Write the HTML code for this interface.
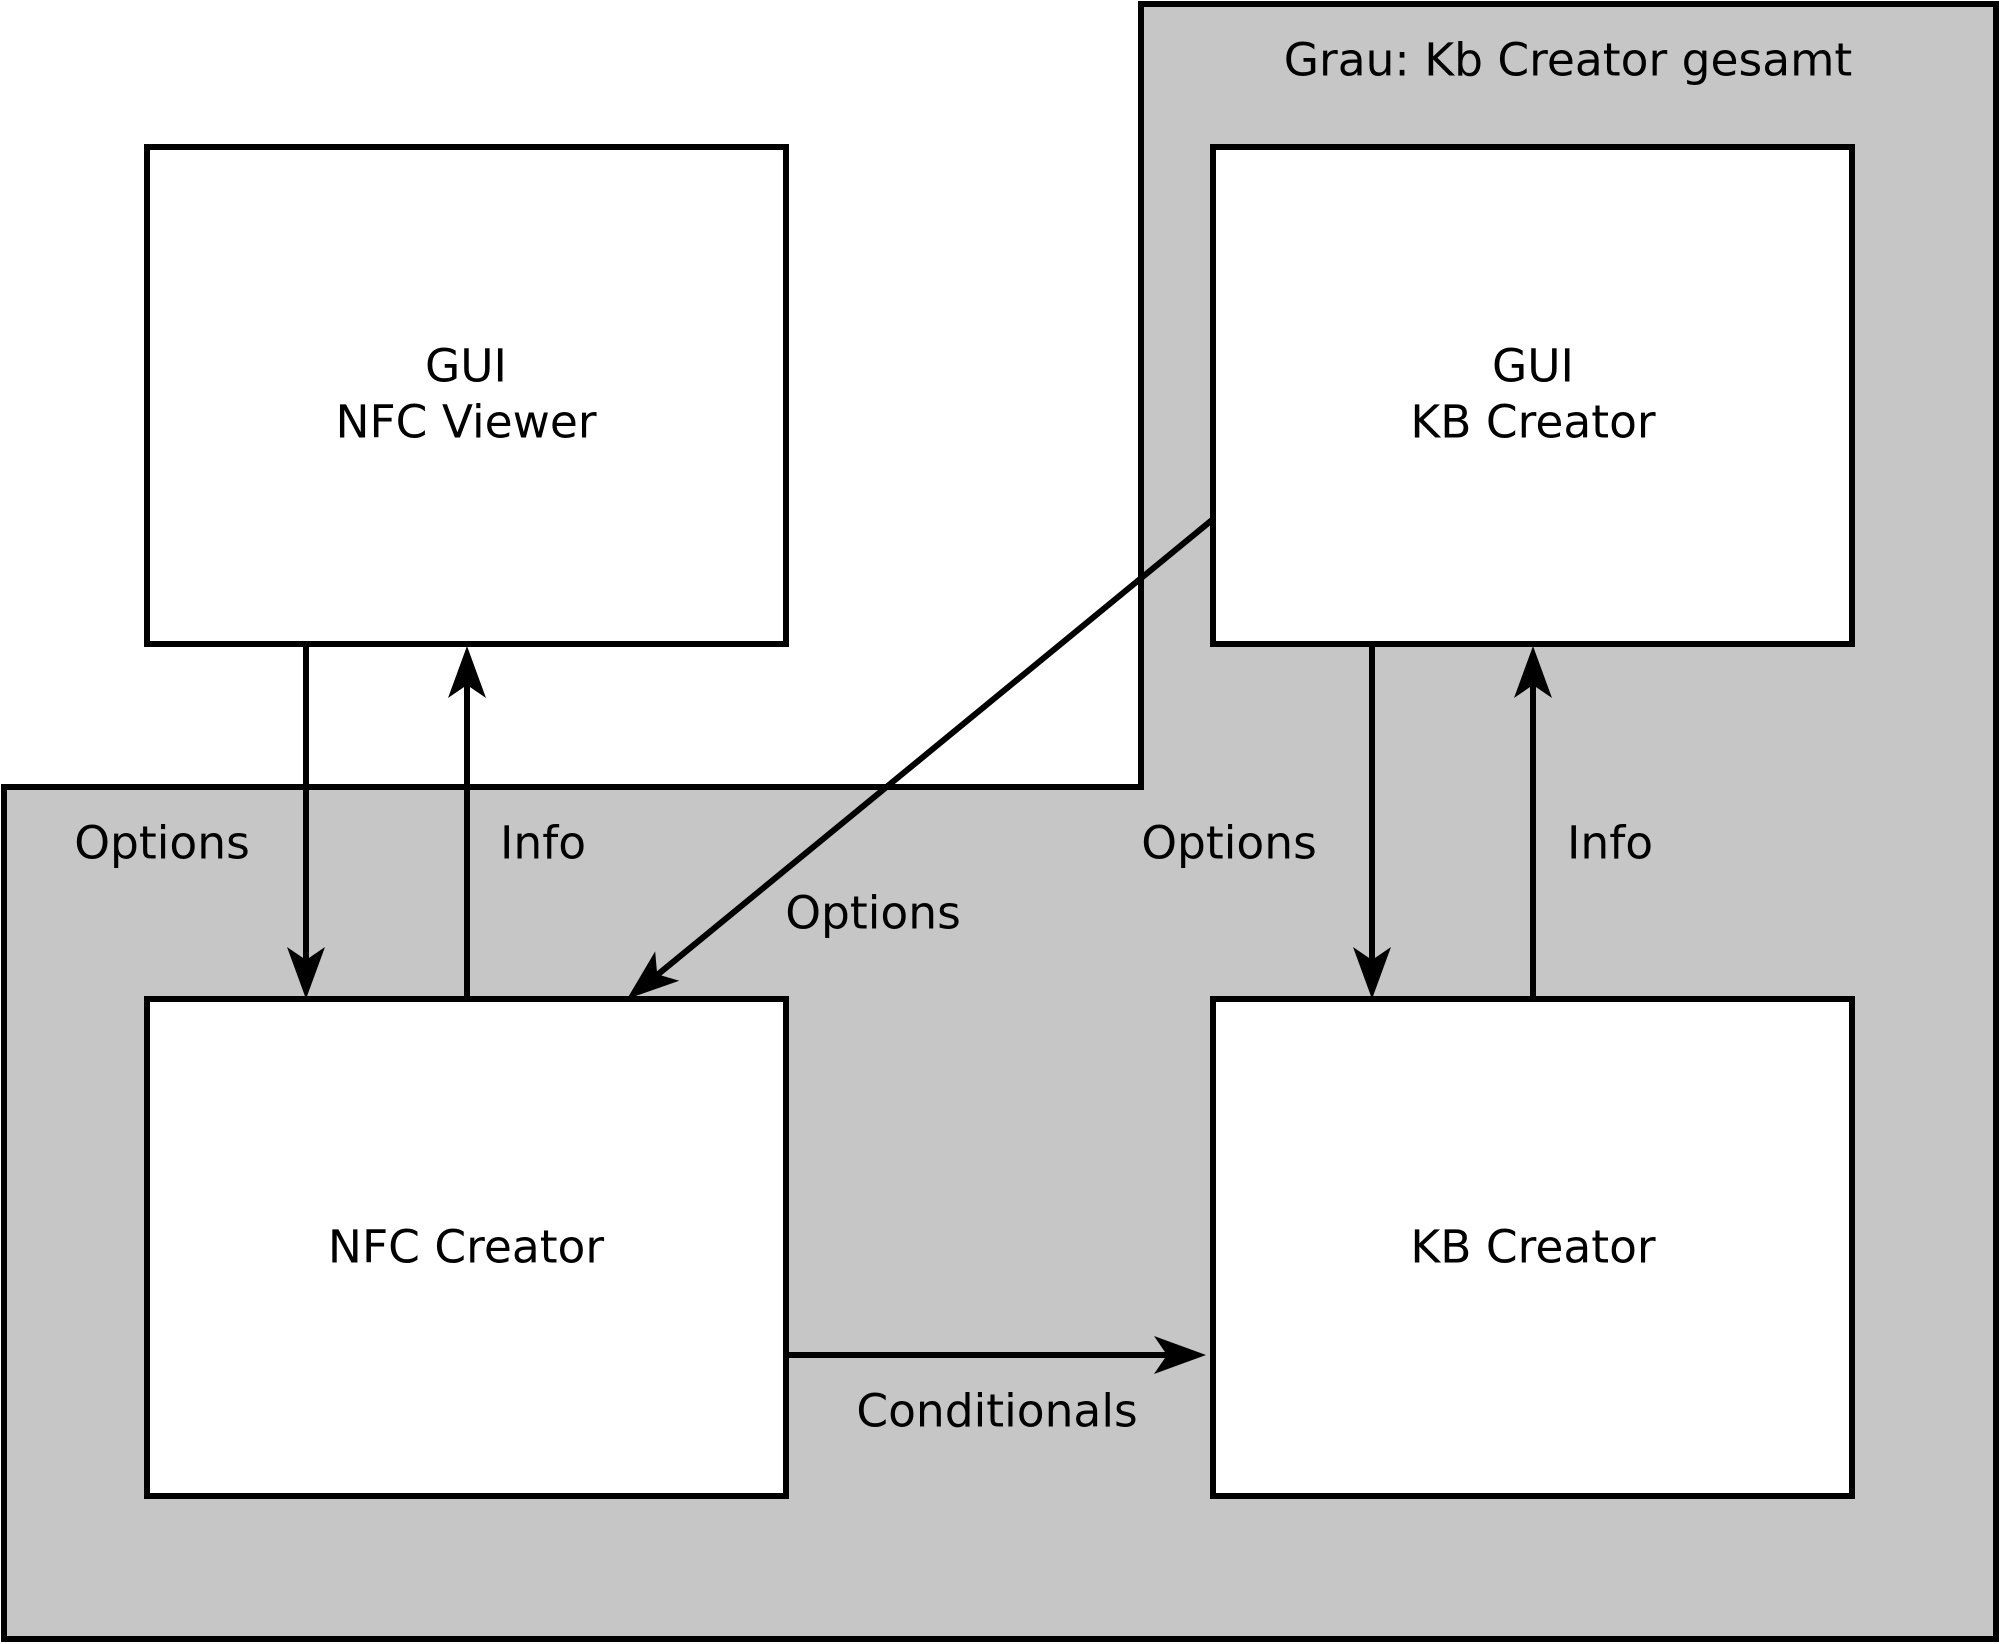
<!DOCTYPE html>
<html><head><style>html,body{margin:0;padding:0;background:#fff}svg{display:block}</style></head>
<body>
<svg width="2000" height="1644" viewBox="0 0 2000 1644" xmlns="http://www.w3.org/2000/svg">
<polygon points="1141,4 1996,4 1996,1639 4,1639 4,787 1141,787" fill="#c6c6c6" stroke="#000" stroke-width="6"/>
<g fill="#fff" stroke="#000" stroke-width="6">
<rect x="147" y="147" width="639" height="497"/>
<rect x="1213" y="147" width="639" height="497"/>
<rect x="147" y="999" width="639" height="497"/>
<rect x="1213" y="999" width="639" height="497"/>
</g>
<g stroke="#000" stroke-width="6" fill="none">
<line x1="306" y1="644" x2="306" y2="980"/>
<line x1="467" y1="999" x2="467" y2="665"/>
<line x1="1372" y1="644" x2="1372" y2="980"/>
<line x1="1533" y1="999" x2="1533" y2="665"/>
<line x1="1212" y1="520" x2="645" y2="985"/>
<line x1="786" y1="1355" x2="1185" y2="1355"/>
</g>
<g fill="#000">
<path d="M306,999 L287,947 L306,960 L325,947 Z"/>
<path d="M467,646 L448,698 L467,685 L486,698 Z"/>
<path d="M1372,999 L1353,947 L1372,960 L1391,947 Z"/>
<path d="M1533,646 L1514,698 L1533,685 L1552,698 Z"/>
<path d="M1206,1355 L1154,1336 L1167,1355 L1154,1374 Z"/>
<path transform="translate(627,999) rotate(-39.35)" d="M0,0 L52,-19 L39,0 L52,19 Z"/>
</g>
<g font-family="'DejaVu Sans','Liberation Sans',sans-serif" font-size="45.5" text-anchor="middle" dominant-baseline="central" fill="#000">
<text x="1568" y="60">Grau: Kb Creator gesamt</text>
<text x="466" y="366">GUI</text>
<text x="466" y="422">NFC Viewer</text>
<text x="1533" y="366">GUI</text>
<text x="1533" y="422">KB Creator</text>
<text x="466" y="1247">NFC Creator</text>
<text x="1533" y="1247">KB Creator</text>
<text x="162" y="843">Options</text>
<text x="543" y="843">Info</text>
<text x="873" y="913">Options</text>
<text x="1229" y="843">Options</text>
<text x="1610" y="843">Info</text>
<text x="997" y="1411">Conditionals</text>
</g>
</svg>
</body></html>
